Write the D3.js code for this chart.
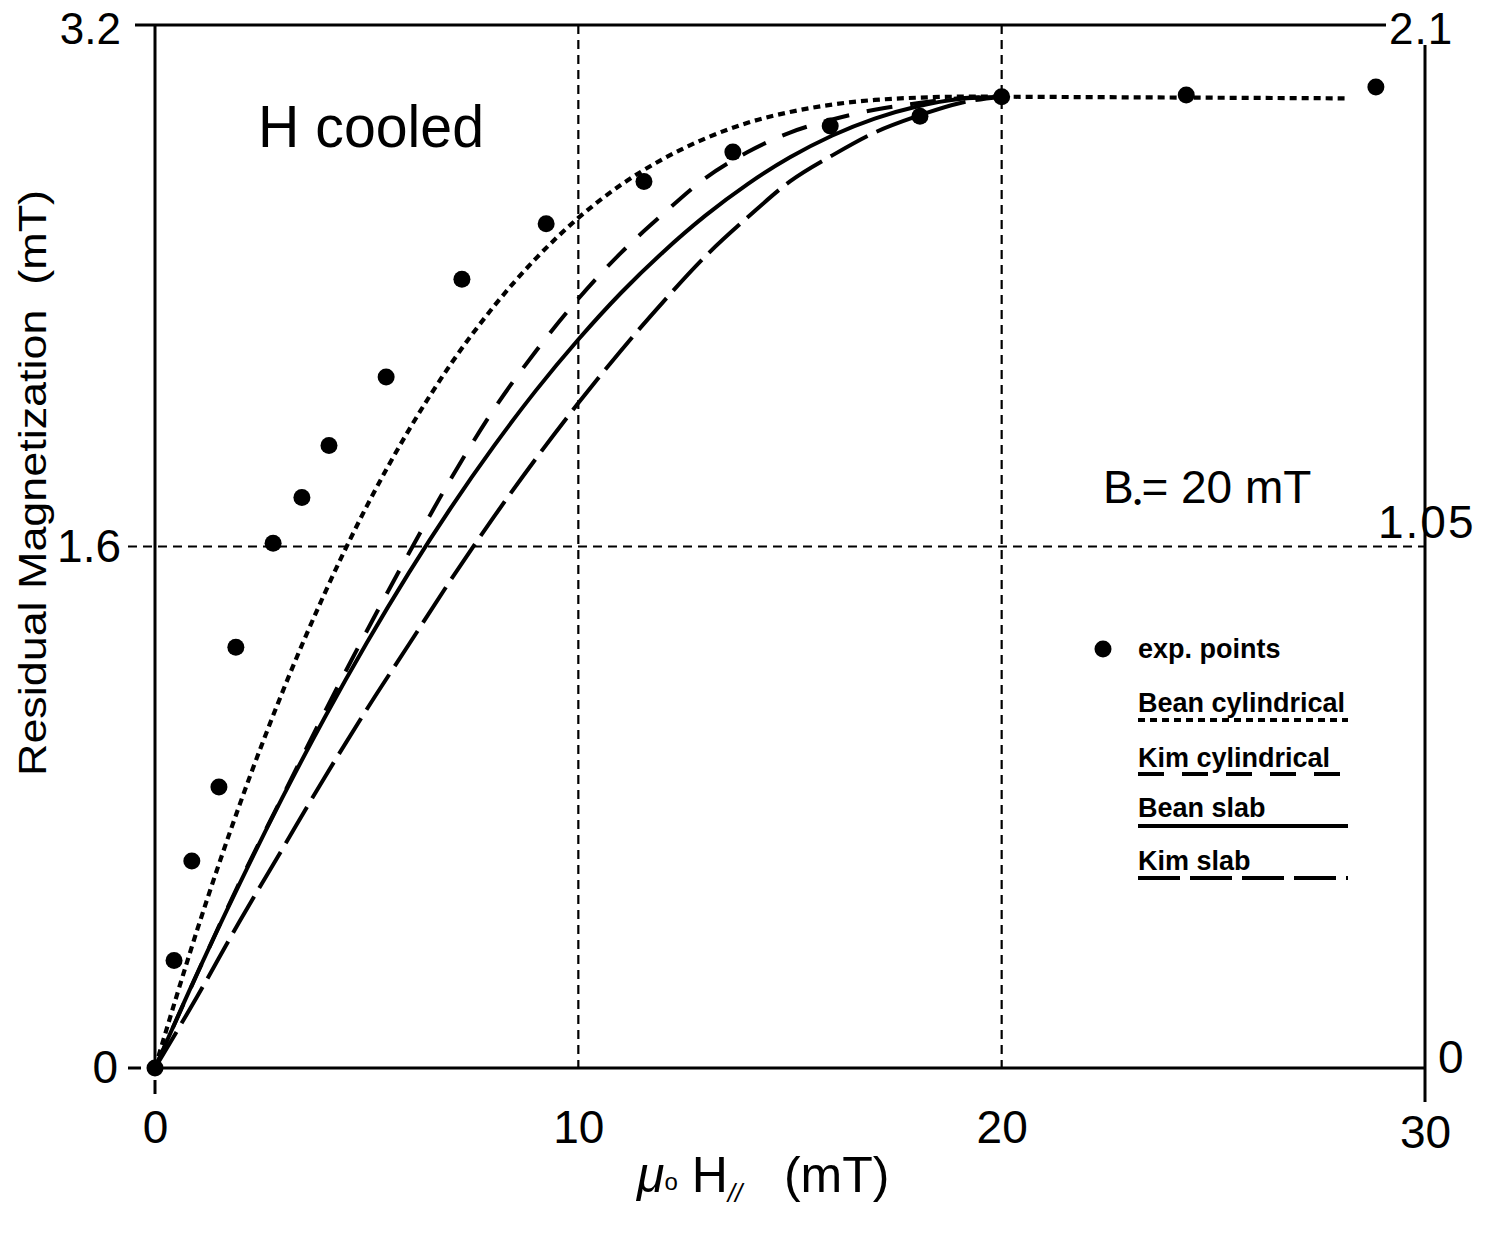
<!DOCTYPE html>
<html><head><meta charset="utf-8">
<script src="https://cdn.jsdelivr.net/npm/d3@7"></script>
<style>body{margin:0;background:#fff} svg{display:block}</style>
</head><body>
<svg id="c" width="1497" height="1245"></svg>
<script>
// ---- data ----
const curveH   = [0,1,2,3,4,5,6,7,8,9,10,11,12,13,14,15,16,17,18,19,20];
const beanCyl  = [0,0.425,0.808,1.150,1.454,1.723,1.958,2.162,2.336,2.484,2.608,2.709,2.789,2.852,2.900,2.933,2.956,2.970,2.977,2.980,2.98];
const kimCyl   = [0,0.29,0.57,0.83,1.09,1.34,1.58,1.81,2.02,2.20,2.36,2.50,2.62,2.73,2.81,2.87,2.91,2.94,2.96,2.975,2.98];
const beanSlab = [0,0.291,0.566,0.827,1.073,1.304,1.520,1.721,1.907,2.079,2.235,2.377,2.503,2.615,2.712,2.794,2.861,2.913,2.950,2.973,2.98];
const kimSlab  = [0,0.22,0.45,0.67,0.89,1.10,1.30,1.50,1.69,1.87,2.04,2.20,2.35,2.49,2.61,2.72,2.80,2.87,2.92,2.96,2.98];
const tailH = [20, 28.1];
const tailM = [2.98, 2.975];
const expH = [0,0.45,0.87,1.51,1.91,2.79,3.47,4.11,5.46,7.25,9.24,11.55,13.65,15.95,18.07,20.0,24.36,28.84];
const expM = [0,0.33,0.635,0.862,1.291,1.61,1.75,1.91,2.12,2.42,2.59,2.72,2.81,2.89,2.92,2.98,2.985,3.01];
const xTicks  = [0,10,20,30];
const yTicks  = [0,1.6,3.2];
const y2Ticks = [0,1.05,2.1];
const legendLabels = ["exp. points","Bean cylindrical","Kim cylindrical","Bean slab","Kim slab"];

// ---- layout ----
const svg = d3.select("#c");
const L = 155, R = 1425, T = 25, B = 1068;
const x  = d3.scaleLinear().domain([0,30]).range([L,R]);
const y  = d3.scaleLinear().domain([0,3.2]).range([B,T]);
const y2 = d3.scaleLinear().domain([0,2.1]).range([B,T]);
const FONT = "'Liberation Sans', Arial, Helvetica, sans-serif";

// grid lines
const g = svg.append("g").attr("stroke","#000").attr("stroke-width",2.2).attr("stroke-dasharray","9,6");
[10,20].forEach(v => g.append("line").attr("x1",x(v)).attr("x2",x(v)).attr("y1",T).attr("y2",B));
g.append("line").attr("x1",128).attr("x2",R).attr("y1",y(1.6)).attr("y2",y(1.6));

// frame lines
const fr = svg.append("g").attr("stroke","#000").attr("stroke-width",3);
fr.append("line").attr("x1",L).attr("x2",L).attr("y1",T).attr("y2",B);
fr.append("line").attr("x1",135).attr("x2",1386).attr("y1",T).attr("y2",T);
fr.append("line").attr("x1",L).attr("x2",R).attr("y1",B).attr("y2",B);
fr.append("line").attr("x1",R).attr("x2",R).attr("y1",45).attr("y2",1102);
fr.append("line").attr("x1",128).attr("x2",141).attr("y1",B).attr("y2",B);
fr.append("line").attr("x1",L).attr("x2",L).attr("y1",1080).attr("y2",1094);

// axes (labels only)
const ax = svg.append("g").attr("transform",`translate(0,${B})`)
  .call(d3.axisBottom(x).tickValues(xTicks).tickSize(0).tickPadding(42).tickFormat(d3.format("d")));
const ay = svg.append("g").attr("transform",`translate(${L},0)`)
  .call(d3.axisLeft(y).tickValues(yTicks).tickSize(0).tickPadding(34).tickFormat(d => d===0 ? "0" : d.toFixed(1)));
const ay2 = svg.append("g").attr("transform",`translate(${R},0)`)
  .call(d3.axisRight(y2).tickValues(y2Ticks).tickSize(0).tickPadding(0).tickFormat(d => d===0 ? "0" : String(d)));
[ax,ay,ay2].forEach(a => { a.select(".domain").remove();
  a.selectAll("text").attr("font-family",FONT).attr("font-size",46).attr("fill","#000"); });
ay.selectAll(".tick").filter(d=>d===0).select("text").attr("x",-37);
ay.selectAll(".tick").filter(d=>d===3.2).select("text").attr("font-size",44).attr("dy","0.42em");
ax.selectAll(".tick").filter(d=>d===30).select("text").attr("y",47);
ay2.selectAll(".tick text").each(function(d){
  const t = d3.select(this);
  if (d===2.1) t.attr("x",-36).attr("font-size",44).attr("dy","0.42em").attr("letter-spacing",1);
  else if (d===1.05) t.attr("x",-47).attr("dy","-0.2em").attr("letter-spacing",2);
  else t.attr("x",13).attr("dy","0.1em");
});

// curves
const line = d3.line().x(d=>x(d[0])).y(d=>y(d[1])).curve(d3.curveMonotoneX);
const series = [
  {vals: beanCyl,  dash: "7,5",   w: 4.2},
  {vals: kimCyl,   dash: "26,18", w: 4},
  {vals: beanSlab, dash: null,    w: 4},
  {vals: kimSlab,  dash: "42,10", w: 4}
];
series.forEach(s => {
  svg.append("path").datum(curveH.map((h,i)=>[h,s.vals[i]]))
    .attr("d",line).attr("fill","none").attr("stroke","#000")
    .attr("stroke-width",s.w).attr("stroke-dasharray",s.dash);
});
svg.append("path").datum(tailH.map((h,i)=>[h,tailM[i]]))
  .attr("d",d3.line().x(d=>x(d[0])).y(d=>y(d[1])))
  .attr("fill","none").attr("stroke","#000").attr("stroke-width",4.2).attr("stroke-dasharray","7,5");

// experimental points
svg.append("g").selectAll("circle").data(expH.map((h,i)=>[h,expM[i]])).join("circle")
  .attr("cx",d=>x(d[0])).attr("cy",d=>y(d[1])).attr("r",8.5).attr("fill","#000");

// annotations
svg.append("text").attr("x",258).attr("y",147).attr("font-family",FONT).attr("font-size",60)
  .attr("textLength",226).attr("lengthAdjust","spacingAndGlyphs").text("H cooled");
const bt = svg.append("text").attr("x",1103).attr("y",503).attr("font-family",FONT).attr("font-size",46);
bt.append("tspan").text("B");
bt.append("tspan").attr("font-size",22).attr("dy",6).text("•");
bt.append("tspan").attr("dy",-6).text("= 20 mT");

// legend
const LX = 1138, LX2 = 1348;
const rows = [658,712,767,817,870];
const lineY = [null,720,774,826,878];
const legDash = [null,"7,5","26,18",null,"42,10"];
svg.append("circle").attr("cx",1103).attr("cy",649).attr("r",8.5).attr("fill","#000");
legendLabels.forEach((lab,i)=>{
  svg.append("text").attr("x",LX).attr("y",rows[i]).attr("font-family",FONT)
    .attr("font-weight","bold").attr("font-size",27).text(lab);
  if (lineY[i]) svg.append("line").attr("x1",LX).attr("x2",LX2).attr("y1",lineY[i]).attr("y2",lineY[i])
    .attr("stroke","#000").attr("stroke-width",3.8).attr("stroke-dasharray",legDash[i]);
});

// axis titles
svg.append("text").attr("transform","translate(46,483) rotate(-90)").attr("text-anchor","middle")
  .attr("font-family",FONT).attr("font-size",38).attr("textLength",586).attr("lengthAdjust","spacingAndGlyphs")
  .text("Residual Magnetization\u00a0\u00a0(mT)");
const xt = svg.append("text").attr("x",637).attr("y",1192).attr("font-family",FONT).attr("font-size",50);
xt.append("tspan").attr("font-style","italic").text("μ");
xt.append("tspan").attr("font-size",24).attr("dy",-2).text("ο");
xt.append("tspan").attr("dy",2).text("\u00a0H");
xt.append("tspan").attr("font-size",26).attr("font-style","italic").attr("dy",10).text("//");
xt.append("tspan").attr("dy",-10).text("\u00a0\u00a0\u00a0(mT)");
</script>
</body></html>
